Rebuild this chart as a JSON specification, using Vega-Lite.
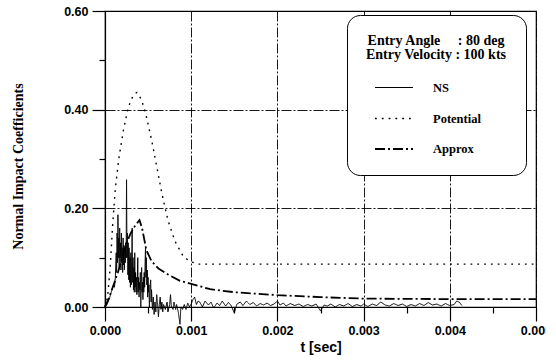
{
  "$schema": "https://vega.github.io/schema/vega-lite/v6.json",
  "width": 431,
  "height": 296,
  "autosize": {"type": "none"},
  "padding": {"left": 105, "top": 11, "right": 10, "bottom": 56},
  "background": "white",
  "config": {
    "view": {"stroke": "black", "strokeWidth": 1.2},
    "axis": {
      "domainColor": "black",
      "domainWidth": 1.2,
      "tickColor": "black",
      "tickWidth": 1.2,
      "labelColor": "black",
      "labelFont": "Liberation Sans",
      "labelFontWeight": "bold",
      "labelFontSize": 12.5,
      "titleColor": "black",
      "gridColor": "black",
      "gridOpacity": 1,
      "gridWidth": 0.9,
      "gridDash": [10, 2, 2, 2]
    },
    "legend": {
      "orient": "none",
      "legendX": 242,
      "legendY": 4,
      "strokeColor": "black",
      "fillColor": "white",
      "cornerRadius": 13,
      "padding": 19,
      "titleFont": "Liberation Serif",
      "titleFontWeight": "bold",
      "titleFontSize": 14,
      "titleLineHeight": 13.5,
      "titleAnchor": "middle",
      "titleColor": "black",
      "titlePadding": 16,
      "labelFont": "Liberation Serif",
      "labelFontWeight": "bold",
      "labelFontSize": 12.5,
      "labelColor": "black",
      "symbolType": "M-2,0H2",
      "symbolSize": 361,
      "symbolStrokeWidth": 1.2,
      "symbolStrokeColor": "black",
      "symbolFillColor": "transparent",
      "symbolOffset": -8.5,
      "labelOffset": 28.5,
      "rowPadding": 13.5
    }
  },
  "data": {
    "values": [
      {"t": 0, "v": 0, "s": "Potential"},
      {"t": 0.00003, "v": 0.02, "s": "Potential"},
      {"t": 0.00006, "v": 0.08, "s": "Potential"},
      {"t": 0.00009, "v": 0.17, "s": "Potential"},
      {"t": 0.00012, "v": 0.24, "s": "Potential"},
      {"t": 0.00016, "v": 0.3, "s": "Potential"},
      {"t": 0.00021, "v": 0.355, "s": "Potential"},
      {"t": 0.00027, "v": 0.405, "s": "Potential"},
      {"t": 0.00033, "v": 0.43, "s": "Potential"},
      {"t": 0.00037, "v": 0.435, "s": "Potential"},
      {"t": 0.000425, "v": 0.42, "s": "Potential"},
      {"t": 0.00048, "v": 0.386, "s": "Potential"},
      {"t": 0.00054, "v": 0.339, "s": "Potential"},
      {"t": 0.0006, "v": 0.285, "s": "Potential"},
      {"t": 0.00066, "v": 0.23, "s": "Potential"},
      {"t": 0.00073, "v": 0.176, "s": "Potential"},
      {"t": 0.00081, "v": 0.134, "s": "Potential"},
      {"t": 0.00091, "v": 0.102, "s": "Potential"},
      {"t": 0.00099, "v": 0.092, "s": "Potential"},
      {"t": 0.00108, "v": 0.087, "s": "Potential"},
      {"t": 0.0015, "v": 0.087, "s": "Potential"},
      {"t": 0.002, "v": 0.087, "s": "Potential"},
      {"t": 0.003, "v": 0.087, "s": "Potential"},
      {"t": 0.004, "v": 0.087, "s": "Potential"},
      {"t": 0.005, "v": 0.087, "s": "Potential"},

      {"t": 0, "v": 0, "s": "Approx"},
      {"t": 0.00005, "v": 0.02, "s": "Approx"},
      {"t": 0.0001, "v": 0.045, "s": "Approx"},
      {"t": 0.00015, "v": 0.07, "s": "Approx"},
      {"t": 0.0002, "v": 0.1, "s": "Approx"},
      {"t": 0.00025, "v": 0.13, "s": "Approx"},
      {"t": 0.0003, "v": 0.15, "s": "Approx"},
      {"t": 0.00035, "v": 0.165, "s": "Approx"},
      {"t": 0.0004, "v": 0.176, "s": "Approx"},
      {"t": 0.00043, "v": 0.16, "s": "Approx"},
      {"t": 0.00048, "v": 0.115, "s": "Approx"},
      {"t": 0.00054, "v": 0.093, "s": "Approx"},
      {"t": 0.00062, "v": 0.078, "s": "Approx"},
      {"t": 0.00073, "v": 0.066, "s": "Approx"},
      {"t": 0.00087, "v": 0.053, "s": "Approx"},
      {"t": 0.001, "v": 0.047, "s": "Approx"},
      {"t": 0.00122, "v": 0.036, "s": "Approx"},
      {"t": 0.0015, "v": 0.03, "s": "Approx"},
      {"t": 0.002, "v": 0.024, "s": "Approx"},
      {"t": 0.0025, "v": 0.02, "s": "Approx"},
      {"t": 0.003, "v": 0.017, "s": "Approx"},
      {"t": 0.004, "v": 0.016, "s": "Approx"},
      {"t": 0.005, "v": 0.016, "s": "Approx"},

      {"t": 0, "v": 0, "s": "NS"},
      {"t": 0.00002, "v": 0.004, "s": "NS"},
      {"t": 0.00004, "v": 0.012, "s": "NS"},
      {"t": 0.00006, "v": 0.022, "s": "NS"},
      {"t": 0.00008, "v": 0.035, "s": "NS"},
      {"t": 0.0001, "v": 0.045, "s": "NS"},
      {"t": 0.00011, "v": 0.04, "s": "NS"},
      {"t": 0.00012, "v": 0.06, "s": "NS"},
      {"t": 0.00013, "v": 0.11, "s": "NS"},
      {"t": 0.000135, "v": 0.07, "s": "NS"},
      {"t": 0.00014, "v": 0.15, "s": "NS"},
      {"t": 0.000145, "v": 0.09, "s": "NS"},
      {"t": 0.00015, "v": 0.187, "s": "NS"},
      {"t": 0.000155, "v": 0.1, "s": "NS"},
      {"t": 0.00016, "v": 0.14, "s": "NS"},
      {"t": 0.000165, "v": 0.08, "s": "NS"},
      {"t": 0.00017, "v": 0.16, "s": "NS"},
      {"t": 0.000175, "v": 0.1, "s": "NS"},
      {"t": 0.00018, "v": 0.13, "s": "NS"},
      {"t": 0.000185, "v": 0.075, "s": "NS"},
      {"t": 0.00019, "v": 0.15, "s": "NS"},
      {"t": 0.000195, "v": 0.09, "s": "NS"},
      {"t": 0.0002, "v": 0.12, "s": "NS"},
      {"t": 0.000205, "v": 0.07, "s": "NS"},
      {"t": 0.00021, "v": 0.14, "s": "NS"},
      {"t": 0.000215, "v": 0.085, "s": "NS"},
      {"t": 0.00022, "v": 0.125, "s": "NS"},
      {"t": 0.000225, "v": 0.075, "s": "NS"},
      {"t": 0.00023, "v": 0.11, "s": "NS"},
      {"t": 0.000235, "v": 0.09, "s": "NS"},
      {"t": 0.00024, "v": 0.13, "s": "NS"},
      {"t": 0.000245, "v": 0.1, "s": "NS"},
      {"t": 0.00025, "v": 0.258, "s": "NS"},
      {"t": 0.000255, "v": 0.1, "s": "NS"},
      {"t": 0.00026, "v": 0.15, "s": "NS"},
      {"t": 0.000265, "v": 0.065, "s": "NS"},
      {"t": 0.00027, "v": 0.13, "s": "NS"},
      {"t": 0.000275, "v": 0.055, "s": "NS"},
      {"t": 0.00028, "v": 0.12, "s": "NS"},
      {"t": 0.000285, "v": 0.05, "s": "NS"},
      {"t": 0.00029, "v": 0.1, "s": "NS"},
      {"t": 0.000295, "v": 0.04, "s": "NS"},
      {"t": 0.0003, "v": 0.11, "s": "NS"},
      {"t": 0.000305, "v": 0.045, "s": "NS"},
      {"t": 0.00031, "v": 0.09, "s": "NS"},
      {"t": 0.000315, "v": 0.16, "s": "NS"},
      {"t": 0.00032, "v": 0.05, "s": "NS"},
      {"t": 0.000325, "v": 0.1, "s": "NS"},
      {"t": 0.00033, "v": 0.035, "s": "NS"},
      {"t": 0.000335, "v": 0.08, "s": "NS"},
      {"t": 0.00034, "v": 0.03, "s": "NS"},
      {"t": 0.000345, "v": 0.11, "s": "NS"},
      {"t": 0.00035, "v": 0.04, "s": "NS"},
      {"t": 0.000355, "v": 0.07, "s": "NS"},
      {"t": 0.00036, "v": 0.03, "s": "NS"},
      {"t": 0.000365, "v": 0.06, "s": "NS"},
      {"t": 0.00037, "v": 0.025, "s": "NS"},
      {"t": 0.000375, "v": 0.05, "s": "NS"},
      {"t": 0.00038, "v": 0.1, "s": "NS"},
      {"t": 0.000385, "v": 0.03, "s": "NS"},
      {"t": 0.00039, "v": 0.06, "s": "NS"},
      {"t": 0.000395, "v": 0.02, "s": "NS"},
      {"t": 0.0004, "v": 0.05, "s": "NS"},
      {"t": 0.000405, "v": 0.035, "s": "NS"},
      {"t": 0.00041, "v": 0.07, "s": "NS"},
      {"t": 0.000415, "v": 0.0, "s": "NS"},
      {"t": 0.00042, "v": 0.04, "s": "NS"},
      {"t": 0.000425, "v": 0.08, "s": "NS"},
      {"t": 0.00043, "v": 0.03, "s": "NS"},
      {"t": 0.000435, "v": 0.05, "s": "NS"},
      {"t": 0.00044, "v": 0.015, "s": "NS"},
      {"t": 0.000445, "v": 0.06, "s": "NS"},
      {"t": 0.00045, "v": 0.03, "s": "NS"},
      {"t": 0.000455, "v": 0.07, "s": "NS"},
      {"t": 0.00046, "v": 0.04, "s": "NS"},
      {"t": 0.000465, "v": 0.09, "s": "NS"},
      {"t": 0.00047, "v": 0.122, "s": "NS"},
      {"t": 0.000475, "v": 0.06, "s": "NS"},
      {"t": 0.00048, "v": 0.1, "s": "NS"},
      {"t": 0.000485, "v": 0.045, "s": "NS"},
      {"t": 0.00049, "v": 0.075, "s": "NS"},
      {"t": 0.000495, "v": 0.02, "s": "NS"},
      {"t": 0.0005, "v": 0.06, "s": "NS"},
      {"t": 0.000505, "v": 0.03, "s": "NS"},
      {"t": 0.00051, "v": 0.045, "s": "NS"},
      {"t": 0.000515, "v": 0.0, "s": "NS"},
      {"t": 0.00052, "v": 0.03, "s": "NS"},
      {"t": 0.00053, "v": 0.055, "s": "NS"},
      {"t": 0.000535, "v": 0.01, "s": "NS"},
      {"t": 0.00054, "v": 0.035, "s": "NS"},
      {"t": 0.00055, "v": -0.005, "s": "NS"},
      {"t": 0.00056, "v": 0.02, "s": "NS"},
      {"t": 0.00057, "v": -0.015, "s": "NS"},
      {"t": 0.00058, "v": 0.01, "s": "NS"},
      {"t": 0.00059, "v": -0.01, "s": "NS"},
      {"t": 0.0006, "v": 0.025, "s": "NS"},
      {"t": 0.00061, "v": 0.005, "s": "NS"},
      {"t": 0.00062, "v": -0.02, "s": "NS"},
      {"t": 0.00063, "v": 0.005, "s": "NS"},
      {"t": 0.00064, "v": 0.02, "s": "NS"},
      {"t": 0.00065, "v": -0.005, "s": "NS"},
      {"t": 0.00066, "v": 0.01, "s": "NS"},
      {"t": 0.00067, "v": -0.01, "s": "NS"},
      {"t": 0.00068, "v": 0.005, "s": "NS"},
      {"t": 0.0007, "v": -0.005, "s": "NS"},
      {"t": 0.00072, "v": 0.01, "s": "NS"},
      {"t": 0.00073, "v": -0.01, "s": "NS"},
      {"t": 0.00075, "v": 0.005, "s": "NS"},
      {"t": 0.00076, "v": 0.025, "s": "NS"},
      {"t": 0.00077, "v": 0.0, "s": "NS"},
      {"t": 0.00079, "v": -0.005, "s": "NS"},
      {"t": 0.0008, "v": 0.01, "s": "NS"},
      {"t": 0.00082, "v": -0.005, "s": "NS"},
      {"t": 0.00083, "v": 0.005, "s": "NS"},
      {"t": 0.00085, "v": -0.01, "s": "NS"},
      {"t": 0.00087, "v": -0.035, "s": "NS"},
      {"t": 0.00088, "v": 0.0, "s": "NS"},
      {"t": 0.0009, "v": -0.005, "s": "NS"},
      {"t": 0.00092, "v": 0.005, "s": "NS"},
      {"t": 0.00094, "v": -0.005, "s": "NS"},
      {"t": 0.00096, "v": 0.008, "s": "NS"},
      {"t": 0.00098, "v": 0.0, "s": "NS"},
      {"t": 0.001, "v": 0.006, "s": "NS"},
      {"t": 0.00102, "v": 0.015, "s": "NS"},
      {"t": 0.00104, "v": 0.02, "s": "NS"},
      {"t": 0.00106, "v": 0.005, "s": "NS"},
      {"t": 0.00108, "v": 0.012, "s": "NS"},
      {"t": 0.0011, "v": 0.01, "s": "NS"},
      {"t": 0.00113, "v": 0.0, "s": "NS"},
      {"t": 0.00116, "v": 0.012, "s": "NS"},
      {"t": 0.0012, "v": 0.004, "s": "NS"},
      {"t": 0.00123, "v": 0.01, "s": "NS"},
      {"t": 0.00126, "v": -0.002, "s": "NS"},
      {"t": 0.0013, "v": 0.008, "s": "NS"},
      {"t": 0.00133, "v": 0.003, "s": "NS"},
      {"t": 0.00136, "v": 0.012, "s": "NS"},
      {"t": 0.0014, "v": 0.002, "s": "NS"},
      {"t": 0.00143, "v": 0.009, "s": "NS"},
      {"t": 0.00146, "v": 0.004, "s": "NS"},
      {"t": 0.0015, "v": -0.012, "s": "NS"},
      {"t": 0.00153, "v": 0.006, "s": "NS"},
      {"t": 0.00157, "v": 0.01, "s": "NS"},
      {"t": 0.0016, "v": 0.003, "s": "NS"},
      {"t": 0.00164, "v": 0.012, "s": "NS"},
      {"t": 0.00168, "v": 0.005, "s": "NS"},
      {"t": 0.00172, "v": 0.009, "s": "NS"},
      {"t": 0.00176, "v": 0.002, "s": "NS"},
      {"t": 0.0018, "v": 0.007, "s": "NS"},
      {"t": 0.00184, "v": 0.004, "s": "NS"},
      {"t": 0.00188, "v": 0.008, "s": "NS"},
      {"t": 0.00192, "v": 0.003, "s": "NS"},
      {"t": 0.00196, "v": 0.006, "s": "NS"},
      {"t": 0.002, "v": 0.012, "s": "NS"},
      {"t": 0.00203, "v": 0.004, "s": "NS"},
      {"t": 0.00207, "v": 0.008, "s": "NS"},
      {"t": 0.0021, "v": 0.002, "s": "NS"},
      {"t": 0.00215, "v": 0.007, "s": "NS"},
      {"t": 0.0022, "v": 0.003, "s": "NS"},
      {"t": 0.00225, "v": 0.006, "s": "NS"},
      {"t": 0.0023, "v": 0.001, "s": "NS"},
      {"t": 0.00235, "v": 0.005, "s": "NS"},
      {"t": 0.0024, "v": 0.002, "s": "NS"},
      {"t": 0.00245, "v": 0.006, "s": "NS"},
      {"t": 0.0025, "v": -0.008, "s": "NS"},
      {"t": 0.00254, "v": 0.004, "s": "NS"},
      {"t": 0.00258, "v": 0.002, "s": "NS"},
      {"t": 0.00262, "v": 0.006, "s": "NS"},
      {"t": 0.00267, "v": 0.0, "s": "NS"},
      {"t": 0.00272, "v": 0.005, "s": "NS"},
      {"t": 0.00277, "v": 0.002, "s": "NS"},
      {"t": 0.00282, "v": 0.007, "s": "NS"},
      {"t": 0.00287, "v": 0.001, "s": "NS"},
      {"t": 0.00292, "v": 0.005, "s": "NS"},
      {"t": 0.00297, "v": 0.002, "s": "NS"},
      {"t": 0.003, "v": 0.006, "s": "NS"},
      {"t": 0.00305, "v": 0.001, "s": "NS"},
      {"t": 0.0031, "v": 0.006, "s": "NS"},
      {"t": 0.00315, "v": 0.003, "s": "NS"},
      {"t": 0.0032, "v": 0.01, "s": "NS"},
      {"t": 0.00325, "v": 0.004, "s": "NS"},
      {"t": 0.0033, "v": 0.002, "s": "NS"},
      {"t": 0.00335, "v": 0.007, "s": "NS"},
      {"t": 0.0034, "v": 0.003, "s": "NS"},
      {"t": 0.00345, "v": 0.006, "s": "NS"},
      {"t": 0.0035, "v": 0.001, "s": "NS"},
      {"t": 0.00355, "v": 0.005, "s": "NS"},
      {"t": 0.0036, "v": 0.002, "s": "NS"},
      {"t": 0.00365, "v": 0.007, "s": "NS"},
      {"t": 0.0037, "v": 0.003, "s": "NS"},
      {"t": 0.00375, "v": 0.009, "s": "NS"},
      {"t": 0.0038, "v": 0.004, "s": "NS"},
      {"t": 0.00385, "v": 0.006, "s": "NS"},
      {"t": 0.0039, "v": 0.002, "s": "NS"},
      {"t": 0.00395, "v": 0.007, "s": "NS"},
      {"t": 0.004, "v": 0.003, "s": "NS"},
      {"t": 0.00405, "v": 0.005, "s": "NS"},
      {"t": 0.00408, "v": 0.012, "s": "NS"},
      {"t": 0.00411, "v": 0.01, "s": "NS"},
      {"t": 0.00414, "v": 0.003, "s": "NS"}
    ]
  },
  "layer": [
    {
      "mark": {"type": "line", "color": "black", "clip": false},
      "encoding": {
        "x": {
          "field": "t",
          "type": "quantitative",
          "scale": {"domain": [0, 0.005], "nice": false, "zero": false},
          "axis": {
            "values": [0, 0.001, 0.002, 0.003, 0.004, 0.005],
            "format": ".3f",
            "title": "t [sec]",
            "titleFont": "Liberation Sans",
            "titleFontWeight": "bold",
            "titleFontSize": 14,
            "titlePadding": 4,
            "tickSize": 14,
            "labelPadding": 3,
            "labelFlush": false,
            "labelOverlap": false,
            "grid": true
          }
        },
        "y": {
          "field": "v",
          "type": "quantitative",
          "scale": {"domain": [0, 0.6], "nice": false, "zero": false},
          "axis": {
            "values": [0, 0.2, 0.4, 0.6],
            "format": ".2f",
            "title": "Normal Impact Coefficients",
            "titleFont": "Liberation Serif",
            "titleFontWeight": "bold",
            "titleFontSize": 14,
            "titleX": -87,
            "titleY": 155,
            "titleAngle": -90,
            "titleAlign": "center",
            "titleBaseline": "middle",
            "tickSize": 13,
            "labelPadding": 4,
            "labelFlush": false,
            "grid": true
          }
        },
        "strokeDash": {
          "field": "s",
          "type": "nominal",
          "scale": {
            "domain": ["NS", "Potential", "Approx"],
            "range": [[1, 0], [1.8, 5], [10, 3, 2, 3]]
          },
          "legend": {
            "title": ["Entry Angle\u00a0\u00a0\u00a0\u00a0\u00a0: 80 deg", "Entry Velocity : 100 kts"]
          }
        },
        "strokeWidth": {
          "field": "s",
          "type": "nominal",
          "scale": {
            "domain": ["NS", "Potential", "Approx"],
            "range": [1, 1.8, 1.2]
          },
          "legend": null
        }
      }
    },
    {
      "mark": {"type": "point", "opacity": 0},
      "encoding": {
        "x": {
          "field": "t",
          "type": "quantitative",
          "axis": {
            "orient": "bottom",
            "values": [0.0005, 0.0015, 0.0025, 0.0035, 0.0045],
            "tickSize": 6,
            "labels": false,
            "grid": false,
            "domain": false,
            "title": null
          }
        },
        "y": {
          "field": "v",
          "type": "quantitative",
          "axis": {
            "orient": "left",
            "values": [0.1, 0.3, 0.5],
            "tickSize": 6,
            "labels": false,
            "grid": false,
            "domain": false,
            "title": null
          }
        }
      }
    }
  ],
  "resolve": {"axis": {"x": "independent", "y": "independent"}}
}
